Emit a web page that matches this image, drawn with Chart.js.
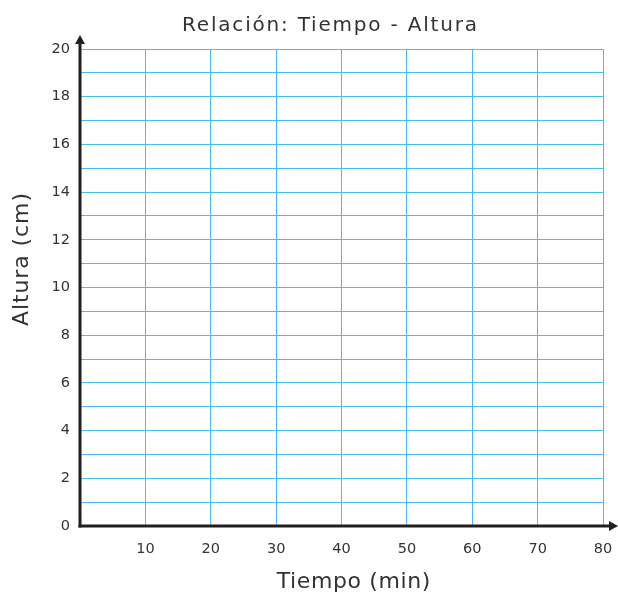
<!DOCTYPE html>
<html>
<head>
<meta charset="utf-8">
<script src="https://cdn.jsdelivr.net/npm/chart.js@4"></script>
<style>
  html, body { margin: 0; padding: 0; background: #ffffff; }
  canvas { display: block; }
</style>
</head>
<body>
<canvas id="c" width="618" height="596"></canvas>
<script>
// ---- data ----
const chartTitle = 'Relación: Tiempo - Altura';
const xAxisTitle = 'Tiempo (min)';
const yAxisTitle = 'Altura (cm)';
const xRange = [0, 80];
const xStep = 10;
const xTickLabels = [10, 20, 30, 40, 50, 60, 70, 80];
const yRange = [0, 20];
const yStep = 1;
const yTickLabels = [0, 2, 4, 6, 8, 10, 12, 14, 16, 18, 20];
const seriesPoints = []; // the reference shows an empty grid

const FONT = '"DejaVu Sans", sans-serif';
const GRID = '#45bdef';
const AXIS = '#231f20';
const TEXT = '#333333';

function drawText(ctx, str, x, y, size, spacing, rot) {
  ctx.save();
  ctx.translate(x, y);
  if (rot) ctx.rotate(rot);
  ctx.font = 'normal ' + size + 'px ' + FONT;
  ctx.fillStyle = TEXT;
  ctx.textAlign = 'center';
  ctx.textBaseline = 'alphabetic';
  if ('letterSpacing' in ctx) ctx.letterSpacing = spacing + 'px';
  ctx.fillText(str, spacing / 2, 0);
  ctx.restore();
}

const titlesAndAxes = {
  id: 'titlesAndAxes',
  afterDraw(chart) {
    const { ctx, chartArea: a } = chart;
    const cx = (a.left + a.right) / 2;
    const cy = (a.top + a.bottom) / 2;
    // titles
    drawText(ctx, chartTitle, cx - 12, a.top - 18, 20, 1.8, 0);
    drawText(ctx, xAxisTitle, cx + 12, a.bottom + 62, 22, 0.6, 0);
    drawText(ctx, yAxisTitle, a.left - 52, cy - 28, 22, 0.9, -Math.PI / 2);
    // axes with arrows
    ctx.save();
    ctx.strokeStyle = AXIS;
    ctx.fillStyle = AXIS;
    ctx.lineWidth = 3;
    ctx.beginPath();
    ctx.moveTo(a.left, a.bottom + 1.5);
    ctx.lineTo(a.left, a.top - 8);
    ctx.stroke();
    ctx.beginPath();
    ctx.moveTo(a.left, a.top - 14);
    ctx.lineTo(a.left - 5, a.top - 5);
    ctx.lineTo(a.left + 5, a.top - 5);
    ctx.closePath();
    ctx.fill();
    ctx.beginPath();
    ctx.moveTo(a.left - 1.5, a.bottom);
    ctx.lineTo(a.right + 8, a.bottom);
    ctx.stroke();
    ctx.beginPath();
    ctx.moveTo(a.right + 15, a.bottom);
    ctx.lineTo(a.right + 6, a.bottom - 5);
    ctx.lineTo(a.right + 6, a.bottom + 5);
    ctx.closePath();
    ctx.fill();
    ctx.restore();
  }
};

new Chart(document.getElementById('c'), {
  type: 'scatter',
  data: { datasets: [{ data: seriesPoints, showLine: false }] },
  options: {
    responsive: false,
    animation: false,
    layout: { padding: { left: 0, right: 15, top: 49, bottom: 0 } },
    plugins: {
      legend: { display: false },
      tooltip: { enabled: false },
      title: { display: false }
    },
    scales: {
      x: {
        type: 'linear',
        min: xRange[0], max: xRange[1],
        afterFit(s) { s.height = 70; s.paddingLeft = 0; s.paddingRight = 0; },
        ticks: {
          stepSize: xStep,
          padding: 15,
          color: TEXT,
          font: { family: FONT, size: 14.5, weight: 'normal' },
          maxRotation: 0,
          callback: v => xTickLabels.includes(v) ? String(v) : ''
        },
        grid: { color: GRID, lineWidth: 1, drawTicks: false },
        border: { display: false },
        title: { display: false }
      },
      y: {
        type: 'linear',
        min: yRange[0], max: yRange[1],
        afterFit(s) { s.width = 80; s.paddingTop = 0; s.paddingBottom = 0; },
        ticks: {
          stepSize: yStep,
          padding: 10,
          color: TEXT,
          font: { family: FONT, size: 14.5, weight: 'normal' },
          autoSkip: false,
          callback: v => yTickLabels.includes(v) ? String(v) : ''
        },
        grid: { color: GRID, lineWidth: 1, drawTicks: false },
        border: { display: false },
        title: { display: false }
      }
    }
  },
  plugins: [titlesAndAxes]
});
</script>
</body>
</html>
